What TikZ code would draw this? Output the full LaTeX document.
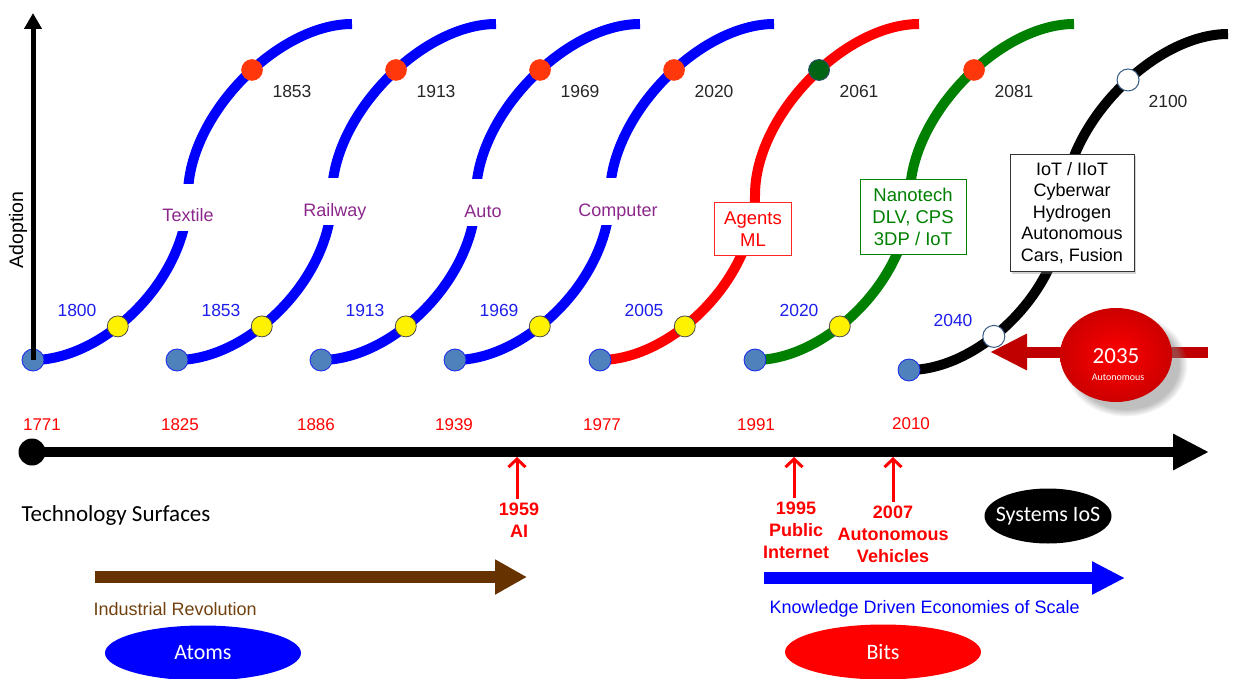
\documentclass[tikz,border=0pt]{standalone}
\usepackage{fontspec}
\setmainfont{Liberation Sans}
\newfontfamily\carl{Carlito}
\usetikzlibrary{arrows.meta, shapes.geometric, shadows}
\definecolor{cblue}{RGB}{0,0,255}
\definecolor{cgreen}{RGB}{0,128,0}
\definecolor{cred}{RGB}{255,0,0}
\definecolor{lpurple}{RGB}{140,40,140}
\definecolor{lblue}{RGB}{30,30,235}
\definecolor{dotblue}{RGB}{79,129,189}
\definecolor{dotred}{RGB}{255,55,10}
\definecolor{dotgreen}{RGB}{0,100,20}
\definecolor{brownarr}{RGB}{102,51,0}
\definecolor{textbrown}{RGB}{115,65,15}
\definecolor{darkred}{RGB}{192,0,0}
\newcommand\fsz[2]{\fontsize{#1}{#2}\selectfont}
\tikzset{
  curveline/.style={line width=10pt},
  bdot/.style={circle, draw=blue!70!dotblue, fill=dotblue, minimum size=22pt, inner sep=0pt, line width=0.8pt},
  ydot/.style={circle, draw=black!70, fill=yellow, minimum size=21pt, inner sep=0pt, line width=0.8pt},
  rdot/.style={circle, draw=dotred, fill=dotred, minimum size=21pt, inner sep=0pt, line width=0.5pt},
  gdot/.style={circle, draw=dotblue!60!black, fill=dotgreen, minimum size=21pt, inner sep=0pt, line width=0.8pt},
  wdot/.style={circle, draw=dotblue!70!black, fill=white, minimum size=22pt, inner sep=0pt, line width=1pt},
  uplab/.style={text=black!85, font=\fsz{17.5}{21}},
  lolab/.style={text=lblue, font=\fsz{17.5}{21}},
  midlab/.style={text=lpurple, font=\fsz{18}{22}, fill=white, inner xsep=2pt, inner ysep=0pt, text height=38pt, text depth=9pt, anchor=base},
  mbox/.style={draw, fill=white, align=center, font=\fsz{18.5}{22}, inner sep=4pt, line width=1pt},
  ylab/.style={text=cred, font=\fsz{17}{20}},
  evlab/.style={text=cred, font=\bfseries\fsz{18}{22}, align=center},
  evarrow/.style={draw=cred, line width=3pt, -{Straight Barb[length=8pt,width=17pt]}},
  oval/.style={ellipse, inner sep=0pt, minimum width=#1, minimum height=55pt},
  ovaltext/.style={text=white, font=\carl\fsz{22}{26}},
  pics/scurve/.style n args={5}{code={
    \draw[curveline, draw=#1] (0,0) .. controls (70,0) and (155,-80) .. (155,-165)
      node[pos=0.4, #2] (-lo) {}
      .. controls (155,-245) and (245,-336) .. (319,-336)
      node[pos=0.55, #3] (-hi) {};
    \node[bdot] (-st) at (0,0) {};
    \node[uplab] (-uy) at (259,-269) {#4};
    \node[lolab] (-ly) at (44,-50) {#5};
  }},
}
\begin{document}
\begin{tikzpicture}[x=1pt, y=-1pt]
\useasboundingbox (0,0) rectangle (1236,679);

% S-curves
\pic (c1) at (33,360) {scurve={cblue}{ydot}{rdot}{1853}{1800}};
\pic (c2) at (177,360) {scurve={cblue}{ydot}{rdot}{1913}{1853}};
\pic (c3) at (321,360) {scurve={cblue}{ydot}{rdot}{1969}{1913}};
\pic (c4) at (455,360) {scurve={cblue}{ydot}{rdot}{2020}{1969}};
\pic (c5) at (600,360) {scurve={cred}{ydot}{gdot}{2061}{2005}};
\pic (c6) at (755,360) {scurve={cgreen}{ydot}{rdot}{2081}{2020}};
\pic (c7) at (909,370) {scurve={black}{wdot}{wdot}{2100}{2040}};

% middle labels
\node[midlab] (textile) at (188,222) {Textile};
\node[midlab] (railway) at (335,216) {Railway};
\node[midlab] (auto) at (483,217) {Auto};
\node[midlab] (computer) at (618,216) {Computer};
\node[mbox, draw=cred!85, text=cred, minimum width=77pt, minimum height=53pt] (agents) at (753,229) {Agents\\ML};
\node[mbox, draw=cgreen, text=cgreen, minimum width=106pt, minimum height=74pt] (nano) at (913,217) {Nanotech\\DLV, CPS\\3DP / IoT};
\node[mbox, draw=black!80, text=black, minimum width=124pt, minimum height=117pt, font=\fsz{18}{21.5}, drop shadow={shadow xshift=2pt, shadow yshift=-2pt, opacity=.35}] (iot) at (1072,213) {IoT / IIoT\\Cyberwar\\Hydrogen\\Autonomous\\Cars, Fusion};

% adoption axis
\coordinate (axtop) at (33,13);
\draw[line width=5pt, -{Triangle[length=16pt,width=17pt]}] (c1-st.center) -- (axtop);
\node[rotate=90, font=\fsz{19.5}{23}] (adopt) at (18,230) {Adoption};

% 2035 ball and arrow
\coordinate (arrR) at (1208,352);
\coordinate (arrL) at (990,352);
\draw[darkred, line width=11pt, -{Triangle[length=37pt,width=34pt]}] (arrR) -- (arrL);
\node[ellipse, minimum width=112pt, minimum height=94pt, inner sep=0pt, shading=radial, inner color=red, outer color=red!80!black, circular drop shadow={shadow xshift=9pt, shadow yshift=-9pt, opacity=.5}] (ball) at (1116,355) {};
\node[text=white, font=\carl\fsz{23}{26}] (b2035) at (1116,356) {2035};
\node[text=white, font=\carl\fsz{10}{12}] (bauto) at (1118,377) {Autonomous};

% timeline
\node[circle, fill=black, minimum size=27pt, inner sep=0pt] (tl0) at (32,452) {};
\coordinate (tlend) at (1209,452);
\draw[line width=10pt, -{Triangle[length=36pt,width=34pt]}] (tl0.center) -- (tlend);
\node[ylab] (y1771) at (42,425) {1771};
\node[ylab] (y1825) at (180,425) {1825};
\node[ylab] (y1886) at (316,425) {1886};
\node[ylab] (y1939) at (454,425) {1939};
\node[ylab] (y1977) at (602,425) {1977};
\node[ylab] (y1991) at (756,425) {1991};
\node[ylab] (y2010) at (911,424) {2010};

% events
\coordinate (t59) at (517,457);
\coordinate (t95) at (794,457);
\coordinate (t07) at (893,457);
\node[evlab] (e59) at (519,520) {1959\\AI};
\node[evlab] (e95) at (796,530) {1995\\Public\\Internet};
\node[evlab] (e07) at (893,534) {2007\\Autonomous\\Vehicles};
\draw[evarrow] (e59.north -| t59) -- (t59);
\draw[evarrow] (e95.north -| t95) -- (t95);
\draw[evarrow] (e07.north -| t07) -- (t07);

% bottom
\node[font=\carl\fsz{23}{27}] (techs) at (116,515) {Technology Surfaces};
\node[oval=127pt, fill=black, label={[ovaltext]center:Systems IoS}] (ios) at (1048,516) {};

\coordinate (brS) at (95,577);
\coordinate (brE) at (527,577);
\draw[brownarr, line width=12pt, -{Triangle[length=32pt,width=33pt]}] (brS) -- (brE);
\node[text=textbrown, font=\fsz{18}{22}, anchor=west] (indrev) at (90,609) {Industrial Revolution};

\coordinate (blS) at (764,578);
\coordinate (blE) at (1125,578);
\draw[cblue, line width=12pt, -{Triangle[length=33pt,width=31pt]}] (blS) -- (blE);
\node[text=cblue, font=\fsz{18}{22}, anchor=west] (know) at (766,609) {Knowledge Driven Economies of Scale};

\node[oval=196pt, fill=cblue, label={[ovaltext]center:Atoms}] (atoms) at (203,653) {};
\node[oval=196pt, fill=cred, label={[ovaltext]center:Bits}] (bits) at (883,652) {};
\end{tikzpicture}
\end{document}
